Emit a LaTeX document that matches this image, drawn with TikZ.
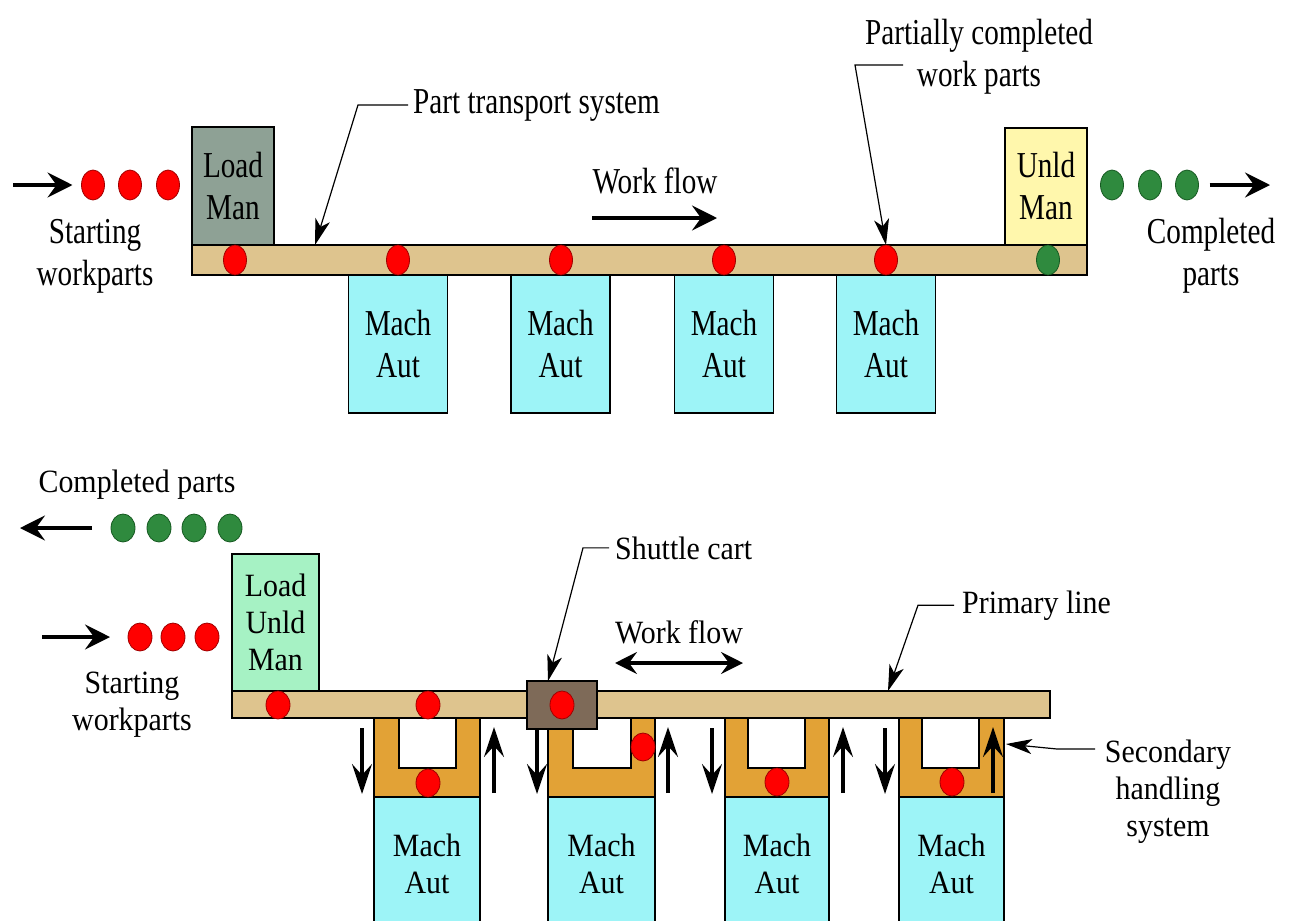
\documentclass[tikz,border=0pt]{standalone}
\usepackage{fontspec}
\setmainfont{Liberation Serif}
\newfontfamily\topf{Liberation Serif}[FakeStretch=0.8]
\newfontfamily\botf{Liberation Serif}[FakeStretch=0.92]
\usetikzlibrary{arrows.meta,shapes.geometric}
\definecolor{cBar}{HTML}{DEC48E}
\definecolor{cLoad}{HTML}{8EA195}
\definecolor{cUnld}{HTML}{FFF7AC}
\definecolor{cMach}{HTML}{9DF4F7}
\definecolor{cLU}{HTML}{A6F2C4}
\definecolor{cU}{HTML}{E2A236}
\definecolor{cShut}{HTML}{7E6A58}
\definecolor{cRed}{HTML}{FF0000}
\definecolor{cRedD}{HTML}{A00000}
\definecolor{cGrn}{HTML}{2F8A3E}
\definecolor{cGrnD}{HTML}{175A22}
\begin{document}
\begin{tikzpicture}[x=1pt,y=-1pt,
  box/.style={draw=black, line width=1.7pt, inner sep=0pt, outer sep=0pt, align=center},
  tt/.style={font={\topf\fontsize{36.5}{42}\selectfont}},
  bt/.style={font={\botf\fontsize{32.5}{37}\selectfont}},
  reddot/.style={ellipse, draw=cRedD, fill=cRed, line width=0.8pt, minimum width=23pt, minimum height=30pt, inner sep=0pt, outer sep=0pt},
  grndot/.style={ellipse, draw=cGrnD, fill=cGrn, line width=0.8pt, minimum width=23pt, minimum height=30pt, inner sep=0pt, outer sep=0pt},
  smalldot/.style={minimum width=24pt, minimum height=28pt},
  bigarrow/.style={line width=3.2pt, -{Stealth[length=25pt,width=25pt,inset=9pt]}},
  dblarrow/.style={line width=3.2pt, {Stealth[length=22pt,width=22pt,inset=8pt]}-{Stealth[length=22pt,width=22pt,inset=8pt]}},
  vertarrow/.style={line width=3.2pt, -{Stealth[length=30pt,width=20pt,inset=11pt]}},
  leader/.style={line width=1.2pt, -{Stealth[length=26pt,width=15pt,inset=7pt]}}
]
\useasboundingbox (0,0) rectangle (1291,921);
\fill[white] (0,0) rectangle (1291,921);

% ================= TOP LINE =================
\node[box, fill=cLoad, tt, minimum width=82pt, minimum height=118pt] (load) at (233,186) {Load\\Man};
\node[box, fill=cUnld, tt, minimum width=82pt, minimum height=117pt] (unld) at (1046,186.5) {Unld\\Man};
\node[box, fill=cBar, minimum width=895pt, minimum height=30pt] (bar1) at (639.5,260) {};
\foreach \i/\x in {1/398,2/560.5,3/724,4/886}
  \node[box, fill=cMach, tt, minimum width=99pt, minimum height=138pt] (m\i) at (\x,344) {Mach\\Aut};

% parts on the line
\node[reddot] (p0) at (235,260) {};
\node[reddot] (p1) at (398,260) {};
\node[reddot] (p2) at (561,260) {};
\node[reddot] (p3) at (724,260) {};
\node[reddot] (p4) at (886,260) {};
\node[grndot] (p5) at (1048,260) {};

% starting workparts
\node[reddot] (s1) at (93,185) {};
\node[reddot] (s2) at (130,185) {};
\node[reddot] (s3) at (168,185) {};
\coordinate (inA) at (13,185);
\draw[bigarrow, shorten >=9pt] (inA) -- (s1.west);
\node[tt, align=center] (startT) at (95,256) {Starting\\workparts};

% completed parts
\node[grndot] (g1) at (1112,185) {};
\node[grndot] (g2) at (1150,185) {};
\node[grndot] (g3) at (1187,185) {};
\coordinate (outA) at (1270,185);
\draw[bigarrow, shorten <=11pt] (g3.east) -- (outA);
\node[tt, align=center] (compT) at (1211,256) {Completed\\parts};

% labels
\node[tt, anchor=base west, inner sep=0pt] (ptl) at (413,113) {Part transport system};
\coordinate (ptT) at (315,245);
\draw[leader] ([xshift=-5pt]ptl.west) -- ++(-50,0) -- (ptT);

\node[tt, anchor=base, inner sep=0pt] (wfT) at (655,193) {Work flow};
\coordinate (wfA) at (592,218);
\coordinate (wfB) at (717,218);
\draw[bigarrow] (wfA) -- (wfB);

\node[tt, align=center, inner sep=0pt] (pcl) at (979,56.5) {Partially completed\\work parts};
\coordinate (pcS) at (903,65);
\draw[leader] (pcS) -- (855,65) -- (p4.north);

% ================= BOTTOM LINE =================
\node[bt, anchor=base, inner sep=0pt] (compB) at (137,492) {Completed parts};
\node[grndot, smalldot] (gb1) at (123,528) {};
\node[grndot, smalldot] (gb2) at (159,528) {};
\node[grndot, smalldot] (gb3) at (194,528) {};
\node[grndot, smalldot] (gb4) at (230,528) {};
\coordinate (outB) at (20,528);
\draw[bigarrow, shorten <=19pt] (gb1.west) -- (outB);

\node[reddot, smalldot] (rb1) at (140,637) {};
\node[reddot, smalldot] (rb2) at (173,637) {};
\node[reddot, smalldot] (rb3) at (207,637) {};
\coordinate (inB) at (42,637);
\draw[bigarrow, shorten >=18pt] (inB) -- (rb1.west);
\node[bt, align=center] (startB) at (132,705) {Starting\\workparts};

\node[box, fill=cLU, bt, minimum width=87pt, minimum height=137pt] (lu) at (275.5,622.5) {Load\\Unld\\Man};

% secondary handling U-shapes
\foreach \i/\a/\b/\c/\d in {1/374/480/399/456, 2/548/655/573/631, 3/725/829/748/805, 4/899/1004/922/979}{
  \node[box, fill=cU, minimum width={(\b-\a)*1pt}, minimum height=79pt] (u\i) at ({(\a+\b)/2},757.5) {};
  \node[box, fill=white, minimum width={(\d-\c)*1pt}, minimum height=50pt] (w\i) at ({(\c+\d)/2},743) {};
  \node[box, fill=cMach, bt, minimum width={(\b-\a)*1pt}, minimum height=134pt] (mb\i) at ({(\a+\b)/2},864) {Mach\\Aut};
}

\node[box, fill=cBar, minimum width=818pt, minimum height=27pt] (bar2) at (641,704.5) {};
\node[box, fill=cShut, minimum width=70pt, minimum height=48pt] (cart) at (562,705) {};

\node[reddot, smalldot] (q1) at (278,705) {};
\node[reddot, smalldot] (q2) at (428,705) {};
\node[reddot, smalldot] (q3) at (562,705) {};
\node[reddot, smalldot] (q4) at (428,783) {};
\node[reddot, smalldot] (q5) at (643,747) {};
\node[reddot, smalldot] (q6) at (777,782) {};
\node[reddot, smalldot] (q7) at (952,782) {};

% up / down arrows
\foreach \x in {362,537,712,885} \draw[vertarrow] (\x,728) -- (\x,794);
\foreach \x in {494,668,843,993} \draw[vertarrow] (\x,793) -- (\x,727);

% labels
\node[bt, anchor=base west, inner sep=0pt] (scl) at (615,559) {Shuttle cart};
\coordinate (scT) at (548,681);
\draw[leader] ([xshift=-6pt]scl.west) -- ++(-26,0) -- (scT);

\node[bt, anchor=base, inner sep=0pt] (wfB) at (679,643) {Work flow};
\coordinate (wbA) at (615,663);
\coordinate (wbB) at (743,663);
\draw[dblarrow] (wbA) -- (wbB);

\node[bt, anchor=base west, inner sep=0pt] (pll) at (962,613) {Primary line};
\coordinate (plT) at (888,691);
\draw[leader] ([xshift=-8pt]pll.west) -- ++(-36,0) -- (plT);

\node[bt, align=center] (shl) at (1168,791.5) {Secondary\\handling\\system};
\coordinate (shS) at (1095,749);
\coordinate (shT) at (1006,744);
\draw[leader] (shS) -- (1057,749) -- (shT);
\end{tikzpicture}
\end{document}
